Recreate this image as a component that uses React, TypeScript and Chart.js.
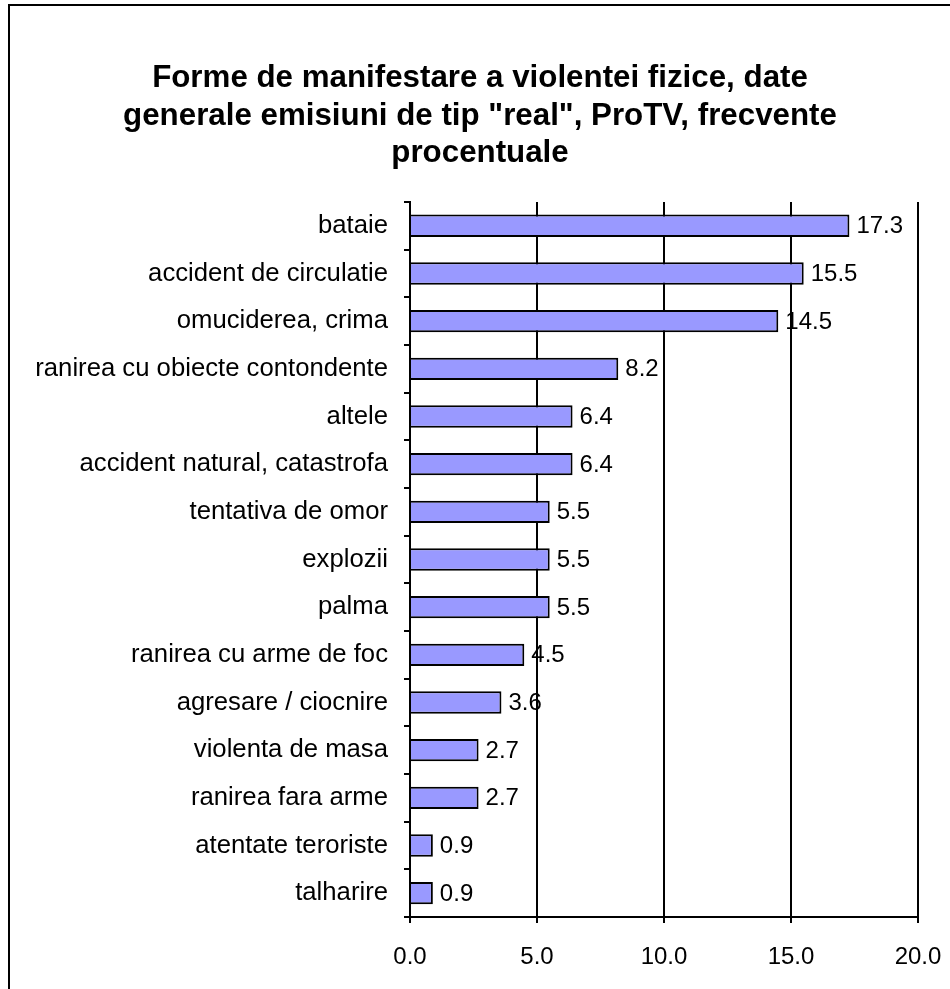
import React, { useEffect, useRef } from "react";
import { Chart, registerables } from "chart.js";

Chart.register(...registerables);

const categories = [
  "bataie",
  "accident de circulatie",
  "omuciderea, crima",
  "ranirea cu obiecte contondente",
  "altele",
  "accident natural, catastrofa",
  "tentativa de omor",
  "explozii",
  "palma",
  "ranirea cu arme de foc",
  "agresare / ciocnire",
  "violenta de masa",
  "ranirea fara arme",
  "atentate teroriste",
  "talharire",
];
const values = [17.3, 15.5, 14.5, 8.2, 6.4, 6.4, 5.5, 5.5, 5.5, 4.5, 3.6, 2.7, 2.7, 0.9, 0.9];
const titleLines = [
  "Forme de manifestare a violentei fizice, date",
  'generale emisiuni de tip "real", ProTV, frecvente',
  "procentuale",
];
const xMin = 0;
const xMax = 20;
const xStep = 5;

const FONT = "'Liberation Sans', Arial, sans-serif";

const valueLabels = {
  id: "valueLabels",
  afterDatasetsDraw(chart: any) {
    const ctx = chart.ctx;
    const meta = chart.getDatasetMeta(0);
    ctx.save();
    ctx.font = `24px ${FONT}`;
    ctx.fillStyle = "#000";
    ctx.textAlign = "left";
    ctx.textBaseline = "middle";
    meta.data.forEach((bar: any, i: number) => {
      ctx.fillText(values[i].toFixed(1), bar.x + 7, bar.y + 1);
    });
    ctx.restore();
  },
};

export default function App() {
  const ref = useRef<HTMLCanvasElement>(null);
  useEffect(() => {
    if (!ref.current) return;
    const chart = new Chart(ref.current, {
      type: "bar",
      data: {
        labels: categories,
        datasets: [
          {
            data: values,
            backgroundColor: "#9999FF",
            borderColor: "#000000",
            borderWidth: 2,
            barPercentage: 0.47,
            categoryPercentage: 1,
          },
        ],
      },
      plugins: [valueLabels],
      options: {
        indexAxis: "y",
        animation: false,
        responsive: false,
        maintainAspectRatio: false,
        layout: { padding: { left: 0, right: 0, top: 0, bottom: 0 } },
        plugins: {
          legend: { display: false },
          tooltip: { enabled: false },
          title: {
            display: true,
            text: titleLines,
            color: "#000",
            font: { family: FONT, size: 31.3, weight: "bold", lineHeight: 1.198 },
            padding: { top: 60, bottom: 29.5 },
          },
        },
        scales: {
          x: {
            min: xMin,
            max: xMax,
            ticks: {
              stepSize: xStep,
              color: "#000",
              font: { family: FONT, size: 24 },
              padding: 20,
              callback: (v: any) => Number(v).toFixed(1),
            },
            grid: {
              color: "#000",
              lineWidth: 2,
              tickLength: 6,
              drawOnChartArea: true,
            },
            border: { color: "#000", width: 2 },
            afterFit: (s: any) => {
              s.height = 72;
              s.paddingLeft = 0;
              s.paddingRight = 32;
            },
          },
          y: {
            ticks: {
              color: "#000",
              font: { family: FONT, size: 25.7 },
              padding: 16,
            },
            grid: {
              offset: true,
              drawOnChartArea: false,
              color: "#000",
              lineWidth: 2,
              tickLength: 6,
            },
            border: { color: "#000", width: 2 },
            afterFit: (s: any) => {
              s.width = 400;
            },
          },
        },
      },
    });
    return () => chart.destroy();
  }, []);

  return (
    <div style={{ position: "fixed", left: 0, top: 0, width: 950, height: 989, overflow: "hidden", background: "#fff" }}>
      <div
        style={{
          position: "absolute",
          left: 8,
          top: 4,
          width: 1000,
          height: 1050,
          border: "2px solid #000",
          boxSizing: "border-box",
        }}
      />
      <canvas
        ref={ref}
        width={940}
        height={989}
        style={{ position: "absolute", left: 10, top: 0, width: 940, height: 989 }}
      />
    </div>
  );
}
